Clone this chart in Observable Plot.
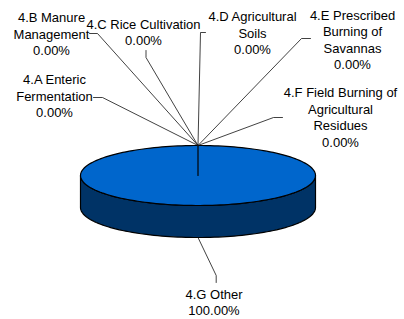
<!DOCTYPE html>
<html>
<head>
<meta charset="utf-8">
<script src="https://cdn.jsdelivr.net/npm/d3@7"></script>
<script src="https://cdn.jsdelivr.net/npm/@observablehq/plot@0.6"></script>
<style>
  html, body { margin: 0; padding: 0; background: #fff; }
  #chart { width: 404px; height: 319px; }
</style>
</head>
<body>
<div id="chart"></div>
<script>
// ---- data ----
const categories = [
  "4.A Enteric\nFermentation",
  "4.B Manure\nManagement",
  "4.C Rice Cultivation",
  "4.D Agricultural\nSoils",
  "4.E Prescribed\nBurning of\nSavannas",
  "4.F Field Burning of\nAgricultural\nResidues",
  "4.G Other"
];
const values = [0, 0, 0, 0, 0, 0, 100];

// ---- layout (label block centres and leader elbows, in px) ----
const labelPos = [[54, 95], [51, 33], [143, 31], [252, 32], [352, 38.5], [340, 116], [213.5, 301]];
const elbows = [
  [[93, 97], [102, 97]],
  [[89, 33], [97, 33]],
  [[145.5, 50], [145.5, 57]],
  [[205, 32], [200, 32]],
  [[310, 38], [301, 38]],
  [[282, 117], [273, 117]],
  [[215.7, 282], [215.7, 275]]
];
const pie3d = {cx: 197.5, cy: 175, rx: 117.5, ry: 30, depth: 32};
const topColor = "#0066CC";
const sideColor = "#003366";

// ---- geometry from data ----
const total = d3.sum(values);
const arcs = d3.pie().sort(null).startAngle(0).endAngle(2 * Math.PI)(values);
const pt = (a, dz = 0) => [pie3d.cx + pie3d.rx * Math.sin(a), pie3d.cy - pie3d.ry * Math.cos(a) + dz];
const steps = 180;

const topRows = [];
const sideRows = [];
arcs.forEach((arc, i) => {
  if (arc.endAngle - arc.startAngle <= 0) return;
  const n = Math.max(2, Math.ceil((arc.endAngle - arc.startAngle) / (2 * Math.PI) * steps));
  const poly = [[pie3d.cx, pie3d.cy]];
  for (let k = 0; k <= n; k++) poly.push(pt(arc.startAngle + (arc.endAngle - arc.startAngle) * k / n));
  poly.push([pie3d.cx, pie3d.cy]);
  poly.forEach(([x, y]) => topRows.push({s: i, x, y}));
  // visible front side: angles between PI/2 and 3PI/2
  const a0 = Math.max(arc.startAngle, Math.PI / 2), a1 = Math.min(arc.endAngle, 3 * Math.PI / 2);
  if (a1 > a0) {
    const m = Math.max(2, Math.ceil((a1 - a0) / (2 * Math.PI) * steps));
    const side = [];
    for (let k = 0; k <= m; k++) side.push(pt(a0 + (a1 - a0) * k / m));
    for (let k = m; k >= 0; k--) side.push(pt(a0 + (a1 - a0) * k / m, pie3d.depth));
    side.push(side[0]);
    side.forEach(([x, y]) => sideRows.push({s: i, x, y}));
  }
});

const fmt = d3.format(".2f");
const labels = categories.map((c, i) => ({
  text: c + "\n" + fmt(values[i] / total * 100) + "%",
  x: labelPos[i][0], y: labelPos[i][1]
}));

const leaderRows = [];
arcs.forEach((arc, i) => {
  const mid = (arc.startAngle + arc.endAngle) / 2;
  const front = Math.cos(mid) < 0;
  const end = pt(mid, front ? pie3d.depth : 0);
  [...elbows[i], end].forEach(([x, y]) => leaderRows.push({s: i, x, y}));
});

const chart = Plot.plot({
  width: 404,
  height: 319,
  margin: 0,
  x: {domain: [0, 404], range: [0, 404], axis: null},
  y: {domain: [0, 319], range: [0, 319], axis: null},
  style: {background: "#fff", fontFamily: "'Liberation Sans', Arial, sans-serif"},
  marks: [
    Plot.line(sideRows, {x: "x", y: "y", z: "s", fill: sideColor, stroke: "#000", strokeWidth: 1.2}),
    Plot.line(topRows, {x: "x", y: "y", z: "s", fill: topColor, stroke: "#000", strokeWidth: 1.2}),
    Plot.line(leaderRows, {x: "x", y: "y", z: "s", stroke: "#111", strokeWidth: 0.8}),
    Plot.text(labels, {x: "x", y: "y", text: "text", fontSize: 13, lineHeight: 1.27,
      textAnchor: "middle", lineAnchor: "middle", fill: "#000"})
  ]
});
document.getElementById("chart").append(chart);
</script>
</body>
</html>
